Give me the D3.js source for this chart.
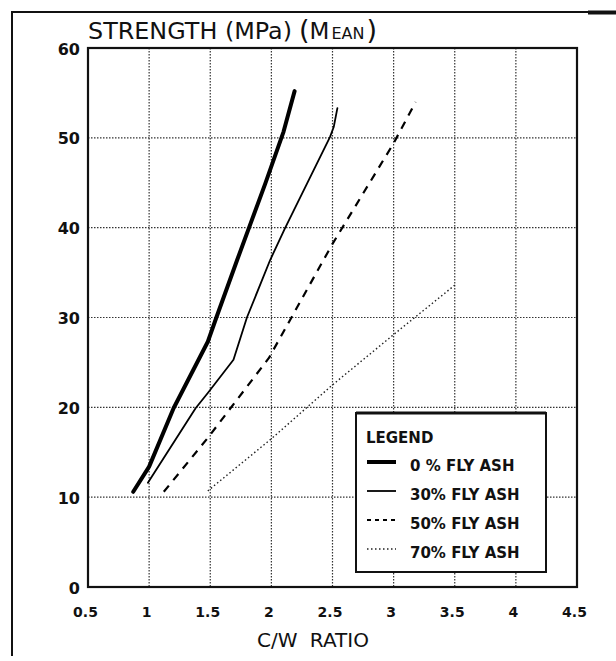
<!DOCTYPE html>
<html>
<head>
<meta charset="utf-8">
<script src="https://cdn.jsdelivr.net/npm/d3@7"></script>
<style>
  html, body { margin: 0; padding: 0; background: #fff; }
  svg { display: block; }
</style>
</head>
<body>
<script>
// Axis ticks
const ratioTicks = [0.5, 1, 1.5, 2, 2.5, 3, 3.5, 4, 4.5];
const strengthTicks = [0, 10, 20, 30, 40, 50, 60];

// Mean strength (MPa) against cement/water ratio for each fly ash content
const fa0Ratio = [0.87, 1.0, 1.2, 1.48, 1.55, 1.72, 1.95, 2.1, 2.19];
const fa0Strength = [10.6, 13.4, 19.9, 27.3, 30.0, 36.4, 44.9, 50.7, 55.2];

const fa30Ratio = [0.99, 1.38, 1.48, 1.69, 1.8, 1.99, 2.11, 2.48, 2.51, 2.54];
const fa30Strength = [11.6, 19.9, 21.6, 25.3, 30.0, 36.4, 39.9, 50.1, 51.2, 53.3];

const fa50Ratio = [1.12, 1.48, 1.98, 2.5, 3.0, 3.18];
const fa50Strength = [10.6, 16.6, 25.5, 38.2, 49.4, 54.0];

const fa70Ratio = [1.48, 2.0, 2.5, 3.0, 3.5];
const fa70Strength = [10.7, 16.5, 22.5, 28.1, 33.6];

const legendLabels = ["0 % FLY ASH", "30% FLY ASH", "50% FLY ASH", "70% FLY ASH"];

const W = 616, H = 661;
const plotL = 88, plotR = 577, plotT = 48, plotB = 587;

const svg = d3.select("body").append("svg")
  .attr("width", W).attr("height", H)
  .attr("viewBox", `0 0 ${W} ${H}`);

const x = d3.scaleLinear().domain([0.5, 4.5]).range([plotL, plotR]);
const y = d3.scaleLinear().domain([0, 60]).range([plotB, plotT]);

// Page frame: top rule and left rule
svg.append("line").attr("x1", 12).attr("x2", 616).attr("y1", 12).attr("y2", 12)
  .attr("stroke", "#111").attr("stroke-width", 2);
svg.append("line").attr("x1", 588).attr("x2", 616).attr("y1", 12.5).attr("y2", 12.5)
  .attr("stroke", "#111").attr("stroke-width", 4);
svg.append("line").attr("x1", 12).attr("x2", 12).attr("y1", 11).attr("y2", 656)
  .attr("stroke", "#111").attr("stroke-width", 2);

// Grid
const grid = svg.append("g").attr("stroke", "#333").attr("stroke-width", 1.2)
  .attr("stroke-dasharray", "1.5,1.5");
grid.selectAll(".gx").data(ratioTicks.slice(1, -1)).join("line")
  .attr("x1", d => x(d)).attr("x2", d => x(d))
  .attr("y1", plotT).attr("y2", plotB);
grid.selectAll(".gy").data(strengthTicks.slice(1, -1)).join("line")
  .attr("x1", plotL).attr("x2", plotR)
  .attr("y1", d => y(d)).attr("y2", d => y(d));

// Plot frame
svg.append("rect").attr("x", plotL).attr("y", plotT)
  .attr("width", plotR - plotL).attr("height", plotB - plotT)
  .attr("fill", "none").attr("stroke", "#111").attr("stroke-width", 2.2);

// Axes
const xAxis = svg.append("g").attr("transform", `translate(0,${plotB})`)
  .call(d3.axisBottom(x).tickValues(ratioTicks).tickSize(0).tickPadding(20)
    .tickFormat(d => String(d)));
xAxis.select(".domain").remove();
xAxis.selectAll("text")
  .attr("dx", -3)
  .attr("font-family", "DejaVu Sans, sans-serif")
  .attr("font-weight", "bold").attr("font-size", 14).attr("fill", "#111");

const yAxis = svg.append("g").attr("transform", `translate(${plotL},0)`)
  .call(d3.axisLeft(y).tickValues(strengthTicks).tickSize(0).tickPadding(8)
    .tickFormat(d => String(d)));
yAxis.select(".domain").remove();
yAxis.selectAll("text")
  .attr("dy", "0.38em")
  .attr("font-family", "DejaVu Sans, sans-serif")
  .attr("font-weight", "bold").attr("font-size", 16).attr("fill", "#111");

// Axis titles
const title = svg.append("text").attr("x", 88).attr("y", 39)
  .attr("font-family", "DejaVu Sans, sans-serif").attr("fill", "#111");
title.append("tspan").attr("font-size", 23).text("STRENGTH (MPa)")
  .attr("textLength", 204).attr("lengthAdjust", "spacingAndGlyphs");
title.append("tspan").attr("x", 299).attr("font-size", 27).text("(");
title.append("tspan").attr("font-size", 23).text("M");
title.append("tspan").attr("font-size", 16).attr("dx", 2).text("EAN");
title.append("tspan").attr("font-size", 27).attr("dx", 2).text(")");

svg.append("text").attr("x", 313).attr("y", 647).attr("text-anchor", "middle")
  .attr("font-family", "DejaVu Sans, sans-serif").attr("font-size", 20)
  .attr("fill", "#111").attr("word-spacing", 6).text("C/W RATIO");

// Series
const series = [
  { r: fa0Ratio, s: fa0Strength, w: 4, dash: null, color: "#000" },
  { r: fa30Ratio, s: fa30Strength, w: 1.8, dash: null, color: "#000" },
  { r: fa50Ratio, s: fa50Strength, w: 2.2, dash: "8,7", color: "#000" },
  { r: fa70Ratio, s: fa70Strength, w: 1.4, dash: "1.5,2.5", color: "#222" }
];
const line = d3.line().x(d => x(d[0])).y(d => y(d[1]));
series.forEach(sr => {
  svg.append("path")
    .attr("d", line(d3.zip(sr.r, sr.s)))
    .attr("fill", "none").attr("stroke", sr.color)
    .attr("stroke-width", sr.w)
    .attr("stroke-linecap", sr.dash ? "butt" : "round")
    .attr("stroke-linejoin", "round")
    .attr("stroke-dasharray", sr.dash);
});

// Legend
const lg = svg.append("g");
lg.append("rect").attr("x", 356).attr("y", 413).attr("width", 190).attr("height", 159)
  .attr("fill", "#fff").attr("stroke", "#111").attr("stroke-width", 2);
lg.append("line").attr("x1", 356).attr("x2", 546).attr("y1", 413).attr("y2", 413)
  .attr("stroke", "#111").attr("stroke-width", 3);
lg.append("text").attr("x", 366).attr("y", 443)
  .attr("font-family", "DejaVu Sans, sans-serif").attr("font-weight", "bold")
  .attr("font-size", 15).attr("fill", "#111").text("LEGEND");
const rows = lg.selectAll(".row").data(legendLabels).join("g")
  .attr("transform", (d, i) => `translate(0,${i * 29})`);
rows.append("line").attr("x1", 367).attr("x2", 396)
  .attr("y1", 462).attr("y2", 462)
  .attr("stroke", (d, i) => series[i].color)
  .attr("stroke-width", (d, i) => series[i].w)
  .attr("stroke-dasharray", (d, i) => series[i].dash === "8,7" ? "4,4" : series[i].dash);
rows.append("text").attr("x", 410).attr("y", 471)
  .attr("font-family", "DejaVu Sans, sans-serif").attr("font-weight", "bold")
  .attr("font-size", 15).attr("fill", "#111").text(d => d);
</script>
</body>
</html>
